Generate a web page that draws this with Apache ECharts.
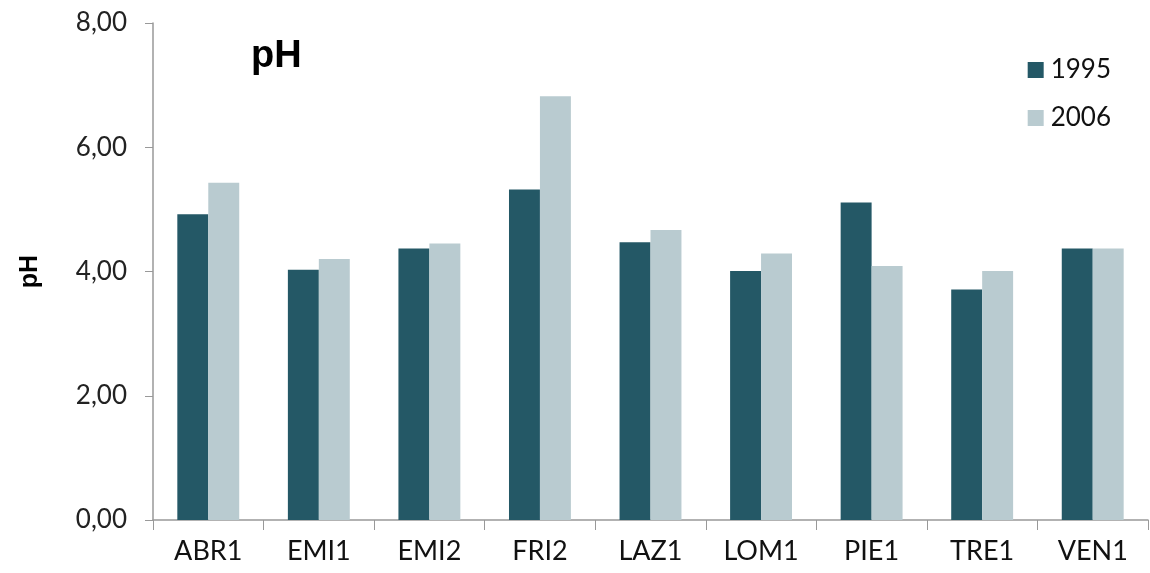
<!DOCTYPE html>
<html>
<head>
<meta charset="utf-8">
<script src="https://cdn.jsdelivr.net/npm/echarts@6/dist/echarts.min.js"></script>
<style>
	html, body { margin: 0; padding: 0; background: #fff; }
	#chart { width: 1150px; height: 573px; }
</style>
</head>
<body>
<div id="chart"></div>
<script>
// sites
const categories = ['ABR1', 'EMI1', 'EMI2', 'FRI2', 'LAZ1', 'LOM1', 'PIE1', 'TRE1', 'VEN1'];
// pH values
const ph1995 = [4.92, 4.03, 4.37, 5.32, 4.47, 4.01, 5.11, 3.71, 4.37];
const ph2006 = [5.43, 4.20, 4.45, 6.82, 4.67, 4.29, 4.09, 4.01, 4.37];
const yTicks = [0, 2, 4, 6, 8];

const labelFont = 'Lato, "DejaVu Sans", sans-serif';

const option = {
	animation: false,
	backgroundColor: '#fff',
	title: {
		text: 'pH',
		left: 246,
		top: 33,
		textStyle: {
			fontFamily: 'Arial, "Liberation Sans", sans-serif',
			fontWeight: 'bold',
			fontSize: 38,
			color: '#000',
		},
	},
	legend: {
		orient: 'vertical',
		right: 34,
		top: 52,
		itemWidth: 16,
		itemHeight: 16,
		itemGap: 22,
		icon: 'rect',
		textStyle: {
			fontFamily: labelFont,
			fontSize: 26,
			color: '#111',
			padding: [0, 0, 0, 2],
		},
		data: ['1995', '2006'],
	},
	grid: {
		left: 153,
		right: 2,
		top: 23,
		bottom: 53,
	},
	xAxis: {
		type: 'category',
		data: categories,
		axisLine: { lineStyle: { color: '#999', width: 1.5 } },
		axisTick: { show: true, length: 10, lineStyle: { color: '#999' } },
		axisLabel: {
			fontFamily: labelFont,
			fontSize: 27,
			color: '#111',
			margin: 18,
		},
	},
	yAxis: {
		type: 'value',
		min: yTicks[0],
		max: yTicks[yTicks.length - 1],
		interval: 2,
		name: 'pH',
		nameLocation: 'middle',
		nameGap: 110,
		nameTextStyle: {
			fontFamily: 'Arial, "Liberation Sans", sans-serif',
			fontWeight: 'bold',
			fontSize: 25,
			color: '#000',
		},
		axisLine: { show: true, lineStyle: { color: '#999', width: 1.5 } },
		axisTick: { show: true, length: 8, lineStyle: { color: '#999' } },
		splitLine: { show: false },
		axisLabel: {
			fontFamily: labelFont,
			fontSize: 26,
			color: '#222',
			margin: 26,
			formatter: function (value) {
				return value.toFixed(2).replace('.', ',');
			},
		},
	},
	series: [
		{
			name: '1995',
			type: 'bar',
			data: ph1995,
			barGap: '0%',
			barCategoryGap: '44%',
			itemStyle: { color: '#245866' },
		},
		{
			name: '2006',
			type: 'bar',
			data: ph2006,
			itemStyle: { color: '#b9cbd0' },
		},
	],
};

const myEcharts = echarts.init(document.getElementById('chart'));
myEcharts.setOption(option);
</script>
</body>
</html>
